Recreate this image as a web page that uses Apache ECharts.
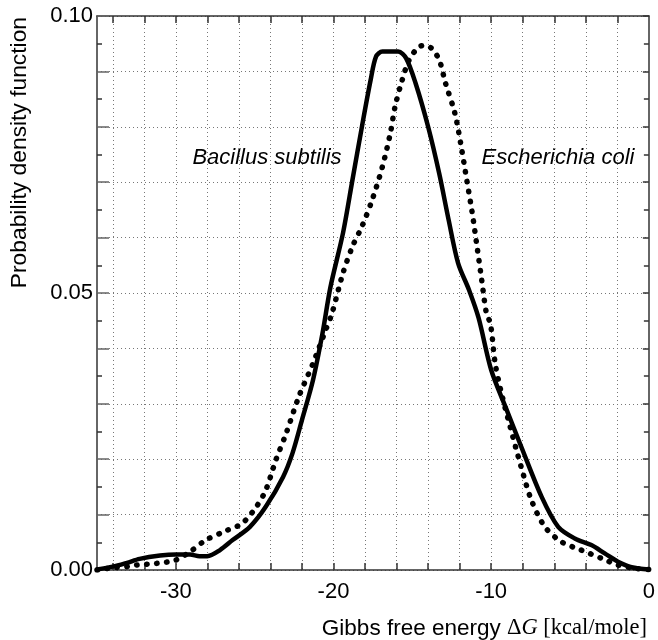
<!DOCTYPE html>
<html><head><meta charset="utf-8">
<script src="https://cdn.jsdelivr.net/npm/echarts@6/dist/echarts.min.js"></script>
<style>html,body{margin:0;padding:0;background:#fff}#c{width:658px;height:640px}</style>
</head><body><div id="c"></div>
<script>
// x-axis tick positions (every 2 kcal/mole) and labelled ticks
const xTicks = [-34,-32,-30,-28,-26,-24,-22,-20,-18,-16,-14,-12,-10,-8,-6,-4,-2];
const xLabels = [-30,-20,-10,0];
const yLabels = [0,0.05,0.1];

// Bacillus subtilis (solid)
const bsX = [-35,-34,-33.1,-32.3,-31,-30,-29.1,-28.5,-28,-27.2,-26.4,-25.3,-24.3,-23.2,-22.6,-22,-21.3,-20.7,-20.2,-19.4,-18.8,-18.2,-17.65,-17.3,-16.9,-15.9,-15.4,-14.8,-14,-13.3,-12.7,-12.1,-11.4,-10.8,-10,-9.1,-8.1,-6.8,-5.75,-4.7,-3.65,-2.8,-1.96,-1.1,0];
const bsY = [0.0001,0.0006,0.0013,0.0020,0.0026,0.0028,0.0028,0.0025,0.0025,0.0036,0.0054,0.0078,0.0114,0.0168,0.0211,0.0271,0.0343,0.0427,0.0510,0.0608,0.0704,0.0800,0.0884,0.0927,0.0936,0.0936,0.0924,0.0879,0.0800,0.0716,0.0632,0.0554,0.0505,0.0455,0.0361,0.0295,0.0223,0.0132,0.0078,0.0057,0.0045,0.0030,0.0015,0.0005,0.0001];

// Escherichia coli (dotted)
const ecX = [-35,-34,-33.1,-32.5,-31.2,-30,-29,-28.1,-26.8,-25.8,-24.9,-24.3,-23.65,-23,-22.2,-21.3,-20.5,-20.1,-19.4,-18.8,-18.2,-17.55,-16.9,-16.4,-16.1,-15.65,-15.2,-14.6,-14.2,-13.8,-13.3,-12.9,-12.3,-11.9,-11.55,-11.2,-10.9,-10.6,-10.3,-10.05,-9.75,-9.35,-8.8,-8.1,-7.45,-6.6,-5.55,-4.3,-3,-1.96,-0.9,0];
const ecY = [0,0.0004,0.0006,0.0009,0.0012,0.0018,0.0035,0.0054,0.0071,0.0084,0.0114,0.0144,0.0199,0.0247,0.0313,0.0373,0.0433,0.0463,0.0536,0.0584,0.0620,0.0668,0.0728,0.0788,0.0836,0.0884,0.0921,0.0944,0.0947,0.0942,0.0921,0.0879,0.0824,0.0764,0.0704,0.0644,0.0584,0.0523,0.0463,0.0445,0.0373,0.0319,0.0259,0.0186,0.0126,0.0078,0.0051,0.0036,0.0021,0.0009,0.0003,0.0001];

const pair = (xs, ys) => xs.map((x, i) => [x, ys[i]]);

const FONT = 'Liberation Sans, Arial, Helvetica, sans-serif';
const SERIF = 'Liberation Serif, Times New Roman, serif';
const axisLineStyle = { color: '#333', width: 1.5 };
const gridStyle = { color: '#777', width: 1, type: [1, 3] };

const chart = echarts.init(document.getElementById('c'), null, { renderer: 'canvas' });
chart.setOption({
  animation: false,
  backgroundColor: '#fff',
  grid: { left: 97, right: 7, top: 16, bottom: 70, containLabel: false },
  title: {
    text: '{a|Gibbs free energy }{b|\u0394}{c|G}{b| [kcal/mole]}',
    right: 11, top: 616, padding: 0,
    textStyle: {
      fontWeight: 'normal',
      rich: {
        a: { fontFamily: FONT, fontSize: 22.5, lineHeight: 24, verticalAlign: 'bottom', fontWeight: 'normal', color: '#000' },
        b: { fontFamily: SERIF, fontSize: 22.5, lineHeight: 24, verticalAlign: 'bottom', fontWeight: 'normal', color: '#000' },
        c: { fontFamily: SERIF, fontSize: 22.5, lineHeight: 24, verticalAlign: 'bottom', fontWeight: 'normal', fontStyle: 'italic', color: '#000' }
      }
    }
  },
  xAxis: [{
    type: 'value', position: 'bottom', min: -35, max: 0,
    axisLine: { show: true, onZero: false, lineStyle: axisLineStyle },
    axisTick: { show: true, inside: true, length: 7, customValues: xTicks, lineStyle: { color: '#333', width: 1.5 } },
    axisLabel: { show: true, customValues: xLabels, fontFamily: FONT, fontSize: 22, color: '#000', margin: 11 },
    splitLine: { show: true, lineStyle: gridStyle }
  }, {
    type: 'value', position: 'top', min: -35, max: 0,
    axisLine: { show: true, onZero: false, lineStyle: axisLineStyle },
    axisTick: { show: true, inside: true, length: 7, customValues: xTicks, lineStyle: { color: '#333', width: 1.5 } },
    axisLabel: { show: false },
    splitLine: { show: false }
  }],
  yAxis: [{
    type: 'value', position: 'left', min: 0, max: 0.1, interval: 0.01,
    axisLine: { show: true, onZero: false, lineStyle: axisLineStyle },
    axisTick: { show: true, inside: true, length: 12, lineStyle: { color: '#666', width: 1.5 } },
    minorTick: { show: true, splitNumber: 2, length: 5, lineStyle: { color: '#333', width: 1.5 } },
    axisLabel: { show: true, customValues: yLabels, formatter: v => v.toFixed(2), fontFamily: FONT, fontSize: 22, color: '#000', margin: 4 },
    splitLine: { show: true, lineStyle: gridStyle }
  }, {
    type: 'value', position: 'right', min: 0, max: 0.1, interval: 0.01,
    axisLine: { show: true, onZero: false, lineStyle: axisLineStyle },
    axisTick: { show: true, inside: true, length: 6, lineStyle: { color: '#333', width: 1.5 } },
    minorTick: { show: true, splitNumber: 2, length: 5, lineStyle: { color: '#333', width: 1.5 } },
    axisLabel: { show: false },
    splitLine: { show: false }
  }],
  graphic: [{
    type: 'text', x: 20, y: 17, rotation: Math.PI / 2,
    style: { text: 'Probability density function', fontFamily: FONT, fontSize: 22.8, fill: '#000', align: 'right', verticalAlign: 'middle' }
  }, {
    type: 'text', x: 267, y: 158,
    style: { text: 'Bacillus subtilis', fontFamily: FONT, fontStyle: 'italic', fontSize: 22, fill: '#000', align: 'center', verticalAlign: 'middle' }
  }, {
    type: 'text', x: 558, y: 158,
    style: { text: 'Escherichia coli', fontFamily: FONT, fontStyle: 'italic', fontSize: 22, fill: '#000', align: 'center', verticalAlign: 'middle' }
  }],
  series: [{
    name: 'Bacillus subtilis', type: 'line', xAxisIndex: 0, yAxisIndex: 0,
    data: pair(bsX, bsY), showSymbol: false, smooth: 0.3,
    lineStyle: { color: '#000', width: 4.5, cap: 'round', join: 'round' }
  }, {
    name: 'Escherichia coli', type: 'line', xAxisIndex: 0, yAxisIndex: 0,
    data: pair(ecX, ecY), showSymbol: false, smooth: 0.3,
    lineStyle: { color: '#000', width: 5.5, type: [0.5, 9.5], cap: 'round', join: 'round' }
  }]
});
</script></body></html>
